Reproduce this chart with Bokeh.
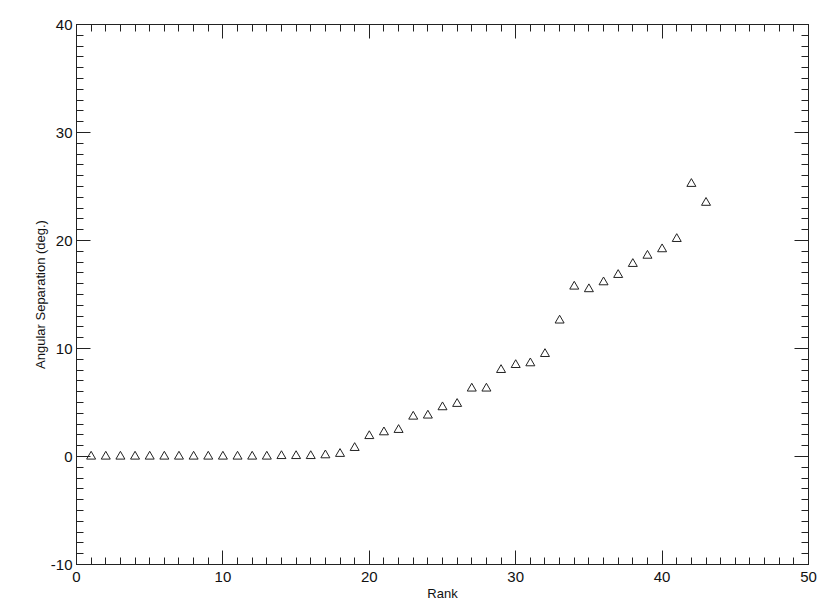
from bokeh.plotting import figure
from bokeh.models import LinearAxis, Range1d, FixedTicker, CustomJSTickFormatter
from bokeh.embed import file_html
from bokeh.resources import INLINE

rank = list(range(1, 44))
separation = [0.0, 0.0, 0.0, 0.0, 0.0, 0.0, 0.0, 0.0, 0.0, 0.0,
              0.0, 0.0, 0.0, 0.05, 0.05, 0.05, 0.12, 0.25, 0.8, 1.9,
              2.25, 2.47, 3.7, 3.8, 4.57, 4.88, 6.3, 6.3, 8.02, 8.48,
              8.64, 9.5, 12.6, 15.74, 15.5, 16.14, 16.82, 17.84, 18.6, 19.2,
              20.15, 25.25, 23.5]
x_ticks = [0, 10, 20, 30, 40, 50]
y_ticks = [-10, 0, 10, 20, 30, 40]
x_minor = list(range(0, 51))
y_minor = list(range(-10, 41))
x_title = "Rank"
y_title = "Angular Separation (deg.)"

FONT = "Liberation Sans"

p = figure(frame_width=732, frame_height=540,
           x_range=Range1d(0, 50), y_range=Range1d(-10, 40),
           output_backend="svg", toolbar_location=None,
           min_border_left=76, min_border_right=15,
           min_border_top=24, min_border_bottom=40,
           x_axis_label=x_title, y_axis_label=y_title)
p.grid.visible = False
p.outline_line_color = "#222222"
p.outline_line_width = 1

p.scatter(rank, separation, marker="triangle", size=9,
          fill_color=None, line_color="#222222", line_width=1)


def style(ax, ticks, minor, labels=True):
    ax.ticker = FixedTicker(ticks=ticks, minor_ticks=minor)
    ax.major_tick_in = 14
    ax.major_tick_out = 0
    ax.minor_tick_in = 7
    ax.minor_tick_out = 0
    ax.axis_line_color = "#222222"
    ax.major_tick_line_color = "#222222"
    ax.minor_tick_line_color = "#222222"
    ax.major_label_text_font = FONT
    ax.major_label_text_font_size = "15px"
    ax.major_label_text_color = "#111111"
    ax.axis_label_text_font = FONT
    ax.axis_label_text_font_size = "13px"
    ax.axis_label_text_font_style = "normal"
    ax.axis_label_text_color = "#111111"
    if labels:
        ax.formatter = CustomJSTickFormatter(code="return String(tick)")
    else:
        ax.formatter = CustomJSTickFormatter(code="return ''")
        ax.major_label_standoff = 0


style(p.xaxis[0], x_ticks, x_minor)
style(p.yaxis[0], y_ticks, y_minor)
p.xaxis[0].major_label_standoff = 7
p.xaxis[0].axis_label_standoff = 1
p.yaxis[0].major_label_standoff = 4
p.yaxis[0].axis_label_standoff = 0

top = LinearAxis()
style(top, x_ticks, x_minor, labels=False)
p.add_layout(top, "above")
right = LinearAxis()
style(right, y_ticks, y_minor, labels=False)
p.add_layout(right, "right")

open("out.html", "w").write(file_html(p, INLINE))
